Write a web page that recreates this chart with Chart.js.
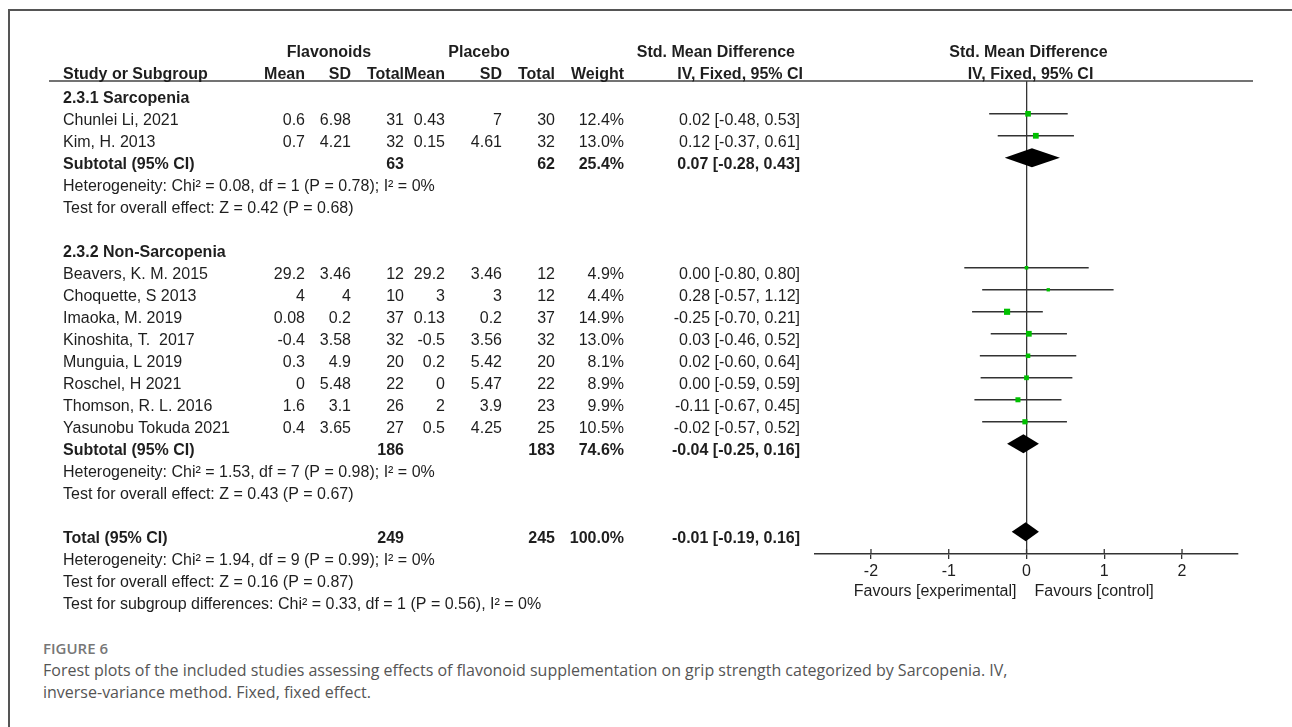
<!DOCTYPE html>
<html>
<head>
<meta charset="utf-8">
<script src="https://cdn.jsdelivr.net/npm/chart.js@4.4.1/dist/chart.umd.min.js"></script>
<style>
  body { margin: 0; background: #fff; width: 1292px; height: 727px; overflow: hidden; position: relative; }
  #frame { position: absolute; left: 8px; top: 9px; width: 1320px; height: 760px; border-top: 2px solid #555; border-left: 2px solid #555; }
  #plot { position: absolute; left: 0; top: 0; }
  #fig { position: absolute; left: 43px; top: 638px; font-family: "Open Sans", sans-serif; font-weight: 600; font-size: 15px; line-height: 20px; color: #777; }
  #cap { position: absolute; left: 43px; top: 659px; font-family: "Open Sans", sans-serif; font-size: 16px; line-height: 22px; color: #555; white-space: nowrap; }
</style>
</head>
<body>
<div id="frame"></div>
<canvas id="plot" width="1292" height="620"></canvas>
<div id="fig">FIGURE 6</div>
<div id="cap">Forest plots of the included studies assessing effects of flavonoid supplementation on grip strength categorized by Sarcopenia. IV,<br>inverse-variance method. Fixed, fixed effect.</div>
<script>
// study level data
const studyNames = ['Chunlei Li, 2021', 'Kim, H. 2013', 'Beavers, K. M. 2015', 'Choquette, S 2013', 'Imaoka, M. 2019',
    'Kinoshita, T.  2017', 'Munguia, L 2019', 'Roschel, H 2021', 'Thomson, R. L. 2016', 'Yasunobu Tokuda 2021'];
const subgroupOfStudy = [0, 0, 1, 1, 1, 1, 1, 1, 1, 1];
const expMean = [0.6, 0.7, 29.2, 4, 0.08, -0.4, 0.3, 0, 1.6, 0.4];
const expSD = [6.98, 4.21, 3.46, 4, 0.2, 3.58, 4.9, 5.48, 3.1, 3.65];
const expN = [31, 32, 12, 10, 37, 32, 20, 22, 26, 27];
const ctlMean = [0.43, 0.15, 29.2, 3, 0.13, -0.5, 0.2, 0, 2, 0.5];
const ctlSD = [7, 4.61, 3.46, 3, 0.2, 3.56, 5.42, 5.47, 3.9, 4.25];
const ctlN = [30, 32, 12, 12, 37, 32, 20, 22, 23, 25];
const weights = [12.4, 13.0, 4.9, 4.4, 14.9, 13.0, 8.1, 8.9, 9.9, 10.5];
const smd = [0.02, 0.12, 0.00, 0.28, -0.25, 0.03, 0.02, 0.00, -0.11, -0.02];
const lower = [-0.48, -0.37, -0.80, -0.57, -0.70, -0.46, -0.60, -0.59, -0.67, -0.57];
const upper = [0.53, 0.61, 0.80, 1.12, 0.21, 0.52, 0.64, 0.59, 0.45, 0.52];

// subgroup summaries
const subgroupNames = ['2.3.1 Sarcopenia', '2.3.2 Non-Sarcopenia'];
const subExpN = [63, 186];
const subCtlN = [62, 183];
const subWeight = [25.4, 74.6];
const subSmd = [0.07, -0.04];
const subLower = [-0.28, -0.25];
const subUpper = [0.43, 0.16];
const subHeterogeneity = ['Heterogeneity: Chi² = 0.08, df = 1 (P = 0.78); I² = 0%',
    'Heterogeneity: Chi² = 1.53, df = 7 (P = 0.98); I² = 0%'];
const subOverall = ['Test for overall effect: Z = 0.42 (P = 0.68)',
    'Test for overall effect: Z = 0.43 (P = 0.67)'];

// overall
const totalExpN = 249;
const totalCtlN = 245;
const totalWeight = 100.0;
const totalSmd = -0.01;
const totalLower = -0.19;
const totalUpper = 0.16;
const totalNotes = ['Heterogeneity: Chi² = 1.94, df = 9 (P = 0.99); I² = 0%',
    'Test for overall effect: Z = 0.16 (P = 0.87)',
    'Test for subgroup differences: Chi² = 0.33, df = 1 (P = 0.56), I² = 0%'];

const tickValues = [-2, -1, 0, 1, 2];
const favourLabels = ['Favours [experimental]', 'Favours [control]'];

// build the row layout (one row per text line)
const rows = [];
const studyRow = [];
let r = 0;
subgroupNames.forEach((name, g) => {
    rows.push({ row: r++, kind: 'group', g: g });
    studyNames.forEach((s, i) => {
        if (subgroupOfStudy[i] === g) {
            studyRow[i] = r;
            rows.push({ row: r++, kind: 'study', i: i });
        }
    });
    rows.push({ row: r++, kind: 'subtotal', g: g });
    rows.push({ row: r++, kind: 'het', g: g });
    rows.push({ row: r++, kind: 'effect', g: g });
    r++; // blank line
});
const totalRow = r++;
rows.push({ row: totalRow, kind: 'total' });
totalNotes.forEach((t, k) => rows.push({ row: r++, kind: 'note', k: k }));

const diamondRows = subgroupNames.map((n, g) => rows.find(o => o.kind === 'subtotal' && o.g === g).row);

// column anchors (px)
const col = { name: 63, expMean: 305, expSD: 351, expN: 404, ctlMean: 445, ctlSD: 502, ctlN: 555, weight: 624, ci: 800 };
const FONT = '"Liberation Sans", Arial, sans-serif';
const TEXT = '#1e1e1e';
const fmt2 = v => v.toFixed(2);
const ciText = (e, lo, hi) => fmt2(e) + ' [' + fmt2(lo) + ', ' + fmt2(hi) + ']';

const forestPlugin = {
    id: 'forestTable',
    afterDatasetsDraw(chart) {
        const ctx = chart.ctx;
        const xs = chart.scales.x, ys = chart.scales.y;
        ctx.save();
        ctx.fillStyle = '#000';
        const h = 0.43;
        const drawDiamond = (row, est, lo, hi) => {
            ctx.beginPath();
            ctx.moveTo(xs.getPixelForValue(lo), ys.getPixelForValue(row));
            ctx.lineTo(xs.getPixelForValue(est), ys.getPixelForValue(row - h));
            ctx.lineTo(xs.getPixelForValue(hi), ys.getPixelForValue(row));
            ctx.lineTo(xs.getPixelForValue(est), ys.getPixelForValue(row + h));
            ctx.closePath();
            ctx.fill();
        };
        diamondRows.forEach((row, g) => drawDiamond(row, subSmd[g], subLower[g], subUpper[g]));
        drawDiamond(totalRow, totalSmd, totalLower, totalUpper);
        ctx.restore();
    },
    afterDraw(chart) {
        const ctx = chart.ctx;
        const xs = chart.scales.x, ys = chart.scales.y;
        const area = chart.chartArea;
        ctx.save();

        // header rule
        ctx.strokeStyle = '#444';
        ctx.lineWidth = 1.5;
        ctx.beginPath();
        ctx.moveTo(49, area.top);
        ctx.lineTo(1253, area.top);
        ctx.stroke();

        // upper half of axis ticks
        ctx.lineWidth = 1.3;
        ctx.strokeStyle = '#333';
        tickValues.forEach(v => {
            const px = xs.getPixelForValue(v);
            ctx.beginPath();
            ctx.moveTo(px, area.bottom - 5);
            ctx.lineTo(px, area.bottom);
            ctx.stroke();
        });

        ctx.fillStyle = TEXT;
        ctx.textBaseline = 'middle';
        const t = (s, x, y, align, bold) => {
            ctx.font = (bold ? 'bold ' : '') + '16px ' + FONT;
            ctx.textAlign = align;
            ctx.fillText(s, x, y);
        };

        // headers
        const h1 = area.top - 28, h2 = area.top - 6;
        t('Flavonoids', 329, h1, 'center', true);
        t('Placebo', 479, h1, 'center', true);
        t('Std. Mean Difference', 795, h1, 'right', true);
        t('Std. Mean Difference', xs.getPixelForValue(0) + 2, h1, 'center', true);
        t('Study or Subgroup', col.name, h2, 'left', true);
        t('Mean', col.expMean, h2, 'right', true);
        t('SD', col.expSD, h2, 'right', true);
        t('Total', col.expN, h2, 'right', true);
        t('Mean', col.ctlMean, h2, 'right', true);
        t('SD', col.ctlSD, h2, 'right', true);
        t('Total', col.ctlN, h2, 'right', true);
        t('Weight', col.weight, h2, 'right', true);
        t('IV, Fixed, 95% CI', 803, h2, 'right', true);
        t('IV, Fixed, 95% CI', xs.getPixelForValue(0) + 4, h2, 'center', true);

        // body rows
        rows.forEach(o => {
            const y = ys.getPixelForValue(o.row) + 6.5;
            if (o.kind === 'group') {
                t(subgroupNames[o.g], col.name, y, 'left', true);
            } else if (o.kind === 'study') {
                const i = o.i;
                t(studyNames[i], col.name, y, 'left', false);
                t(String(expMean[i]), col.expMean, y, 'right', false);
                t(String(expSD[i]), col.expSD, y, 'right', false);
                t(String(expN[i]), col.expN, y, 'right', false);
                t(String(ctlMean[i]), col.ctlMean, y, 'right', false);
                t(String(ctlSD[i]), col.ctlSD, y, 'right', false);
                t(String(ctlN[i]), col.ctlN, y, 'right', false);
                t(weights[i].toFixed(1) + '%', col.weight, y, 'right', false);
                t(ciText(smd[i], lower[i], upper[i]), col.ci, y, 'right', false);
            } else if (o.kind === 'subtotal') {
                const g = o.g;
                t('Subtotal (95% CI)', col.name, y, 'left', true);
                t(String(subExpN[g]), col.expN, y, 'right', true);
                t(String(subCtlN[g]), col.ctlN, y, 'right', true);
                t(subWeight[g].toFixed(1) + '%', col.weight, y, 'right', true);
                t(ciText(subSmd[g], subLower[g], subUpper[g]), col.ci, y, 'right', true);
            } else if (o.kind === 'het') {
                t(subHeterogeneity[o.g], col.name, y, 'left', false);
            } else if (o.kind === 'effect') {
                t(subOverall[o.g], col.name, y, 'left', false);
            } else if (o.kind === 'total') {
                t('Total (95% CI)', col.name, y, 'left', true);
                t(String(totalExpN), col.expN, y, 'right', true);
                t(String(totalCtlN), col.ctlN, y, 'right', true);
                t(totalWeight.toFixed(1) + '%', col.weight, y, 'right', true);
                t(ciText(totalSmd, totalLower, totalUpper), col.ci, y, 'right', true);
            } else if (o.kind === 'note') {
                t(totalNotes[o.k], col.name, y, 'left', false);
            }
        });

        // favours labels under the axis
        const fy = area.bottom + 38;
        t(favourLabels[0], xs.getPixelForValue(0) - 10, fy, 'right', false);
        t(favourLabels[1], xs.getPixelForValue(0) + 8, fy, 'left', false);
        ctx.restore();
    }
};

const ciSets = studyNames.map((s, i) => ({
    data: [{ x: lower[i], y: studyRow[i] }, { x: upper[i], y: studyRow[i] }],
    showLine: true,
    borderColor: '#333',
    borderWidth: 1.5,
    pointRadius: 0,
    order: 2
}));

const squareSet = {
    data: smd.map((v, i) => ({ x: v, y: studyRow[i] })),
    pointStyle: 'rect',
    pointRadius: weights.map(w => 1.13 * Math.sqrt(w)),
    backgroundColor: '#00c000',
    borderWidth: 0,
    order: 1
};

Chart.defaults.font.family = FONT;
Chart.defaults.color = TEXT;

new Chart(document.getElementById('plot'), {
    type: 'scatter',
    data: { datasets: [squareSet, ...ciSets] },
    options: {
        responsive: false,
        animation: false,
        layout: { padding: { left: 815, right: 54, top: 81, bottom: 26 } },
        plugins: { legend: { display: false }, tooltip: { enabled: false } },
        scales: {
            x: {
                type: 'linear',
                min: -2.72,
                max: 2.72,
                afterBuildTicks: scale => { scale.ticks = tickValues.map(v => ({ value: v })); },
                afterFit: scale => { scale.height = 40; },
                ticks: { font: { size: 16 }, color: TEXT, padding: 3 },
                grid: {
                    color: c => (c.tick && c.tick.value === 0) ? '#333' : 'rgba(0,0,0,0)',
                    lineWidth: 1.3,
                    tickColor: '#333',
                    tickLength: 5
                },
                border: { display: true, color: '#333', width: 1.5 }
            },
            y: {
                type: 'linear',
                display: false,
                reverse: true,
                min: -0.49,
                max: 21.01
            }
        }
    },
    plugins: [forestPlugin]
});
</script>
</body>
</html>
